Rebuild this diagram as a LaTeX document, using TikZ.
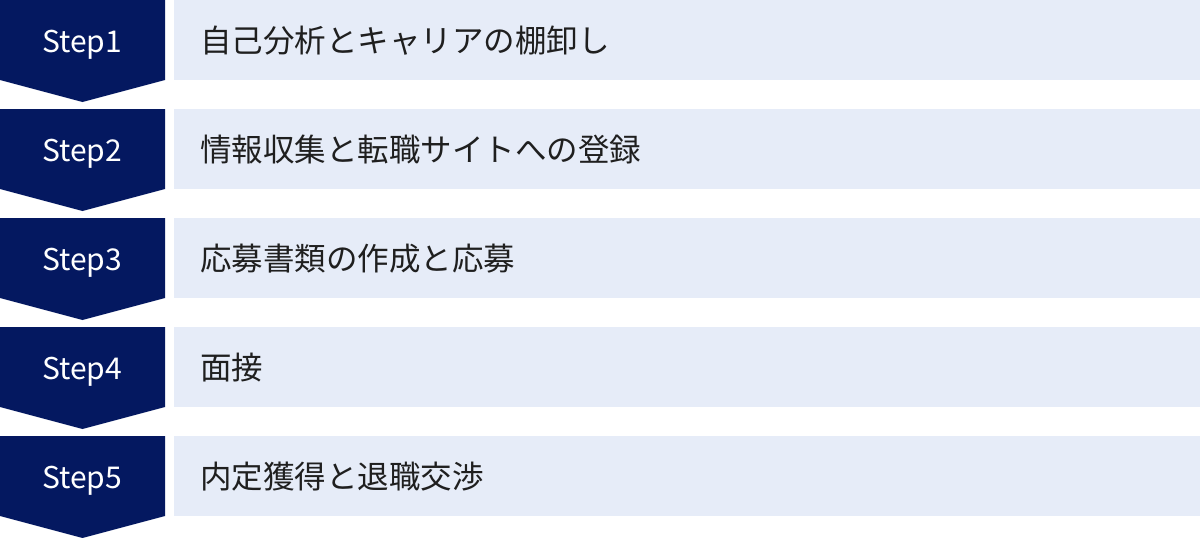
\documentclass[tikz,border=0pt]{standalone}
\usepackage{fontspec}
\setmainfont{Noto Sans CJK JP}
\usepackage{xcolor}
\usetikzlibrary{positioning}
\definecolor{stepnavy}{RGB}{4,24,96}
\definecolor{rowblue}{RGB}{230,236,248}
\tikzset{
    steplabel/.style={text=white, anchor=base, inner sep=0pt,
        font=\fontsize{30}{36}\selectfont}, % white step number on the navy chevron
    rowbox/.style={fill=rowblue, minimum width=1026pt, minimum height=80pt,
        inner xsep=26pt, inner ysep=0pt, text width=974pt, align=left,
        text height=26pt, text depth=2pt,
        text=black!88, font=\fontsize{31.5}{36}\selectfont}, % light band holding the task
}

\begin{document}
\begin{tikzpicture}[x=1pt, y=1pt]
    \useasboundingbox (0,0) rectangle (1200,-538);
    \foreach \i/\task in {1/自己分析とキャリアの棚卸し, 2/情報収集と転職サイトへの登録,
                          3/応募書類の作成と応募, 4/面接, 5/内定獲得と退職交渉} {
        \pgfmathsetmacro{\rowtop}{-(\i-1)*109}
        % navy chevron
        \fill[stepnavy] (0,\rowtop) -- (165,\rowtop) -- (165,\rowtop-80)
            -- (82.5,\rowtop-102) -- (0,\rowtop-80) -- cycle;
        \node[steplabel] (step\i) at (82,\rowtop-52) {Step\i};
        \node[rowbox, anchor=west] (task\i) at (174,\rowtop-40) {\task};
    }
\end{tikzpicture}
\end{document}
